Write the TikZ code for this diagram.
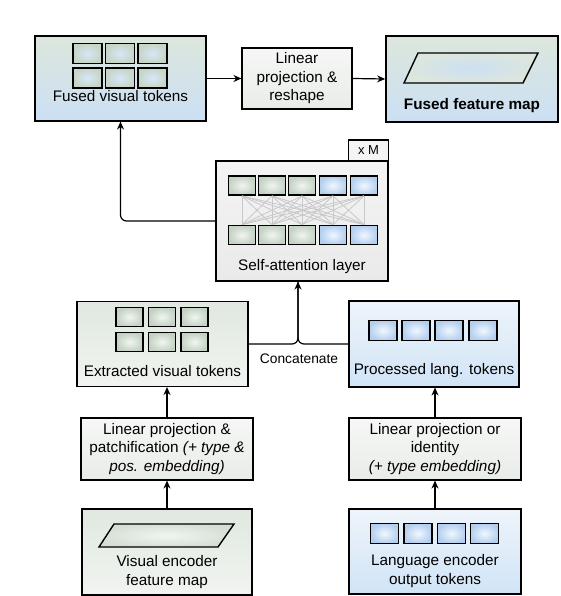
\documentclass[tikz,border=0pt]{standalone}
\usepackage{fontspec}
\setmainfont{Liberation Sans}
\usetikzlibrary{arrows.meta}

\definecolor{mixtop}{HTML}{DCE6DC}
\definecolor{mixbot}{HTML}{CCE0F4}
\definecolor{grntop}{HTML}{E0E8E0}
\definecolor{grnbot}{HTML}{F1F4F1}
\definecolor{blutop}{HTML}{EEF4FA}
\definecolor{blubot}{HTML}{D0E4F7}
\definecolor{lintop}{HTML}{F6F7F6}
\definecolor{linbot}{HTML}{E8ECE8}
\definecolor{satop}{HTML}{F4F4F4}
\definecolor{sabot}{HTML}{EAEAEA}
\definecolor{gtokin}{HTML}{F0F5F0}
\definecolor{gtokout}{HTML}{C4D2C4}
\definecolor{btokin}{HTML}{F0F7FF}
\definecolor{btokout}{HTML}{B4CFEE}
\definecolor{mtokin}{HTML}{D6E7F8}
\definecolor{mtokout}{HTML}{C6D5C6}
\definecolor{attnline}{HTML}{C8C8C8}

\tikzset{
  box/.style={draw=black, line width=1.1pt, align=center, inner sep=0pt,
    font=\fontsize{15.3}{18.5}\selectfont},
  mixbox/.style={top color=mixtop, bottom color=mixbot},
  grnbox/.style={top color=grntop, bottom color=grnbot},
  blubox/.style={top color=blutop, bottom color=blubot},
  linbox/.style={top color=lintop, bottom color=linbot},
  sabox/.style={top color=satop, bottom color=sabot},
  lbl/.style={inner sep=0pt, align=center, font=\fontsize{15.3}{18.5}\selectfont},
  tok/.style={draw=black, line width=1.8pt, minimum width=27pt, minimum height=19pt,
    inner sep=0pt, shading=radial},
  gtok/.style={tok, inner color=gtokin, outer color=gtokout},
  btok/.style={tok, inner color=btokin, outer color=btokout},
  mtok/.style={tok, inner color=mtokin, outer color=mtokout},
  conn/.style={draw=black, line width=1.2pt},
  arrow/.style={conn, -{Stealth[length=8pt, width=7pt]}},
  attn/.style={draw=attnline, line width=0.8pt},
}

\begin{document}
\begin{tikzpicture}[x=1pt, y=-1pt]
    \useasboundingbox (0,0) rectangle (560,596);

    % Fused visual tokens
    \node[box, mixbox, minimum width=171pt, minimum height=85pt] (fvt) at (120.5,78.5) {};
    \foreach \c [count=\i] in {87.5,120,152.5} {
        \node[mtok, minimum width=29pt, minimum height=20pt] (fvt-a\i) at (\c,53.5) {};
        \node[mtok, minimum width=29pt, minimum height=20pt] (fvt-b\i) at (\c,78) {};
    }
    \node[lbl, anchor=base] (fvt-t) at (120.5,101.5) {Fused visual tokens};

    % Linear projection & reshape
    \node[box, linbox, minimum width=110pt, minimum height=61pt] (lpr) at (297,78.5) {Linear\\projection \&\\reshape};

    % Fused feature map
    \node[box, mixbox, line width=1.7pt, minimum width=172pt, minimum height=86pt] (ffm) at (472,79) {};
    \draw[line width=1.4pt, shading=radial, inner color=mixbot, outer color=mixtop]
        (418,53) -- (538,53) -- (523,83) -- (404,83) -- cycle;
    \node[lbl, anchor=base, font=\fontsize{15.3}{18.5}\selectfont\bfseries] (ffm-t) at (472,110) {Fused feature map};

    \draw[arrow] (fvt.east) -- (lpr.west);
    \draw[arrow] (lpr.east) -- (ffm.west);

    % Self-attention layer (x M)
    \node[box, fill=satop, minimum width=40pt, minimum height=21pt,
        font=\fontsize{13}{15}\selectfont] (xm) at (368.5,150.5) {x M};
    \node[box, sabox, minimum width=172pt, minimum height=120pt] (sa) at (302,221) {};
    \foreach \c [count=\i] in {242,272,302,333,364} {
        \ifnum\i<4
            \node[gtok] (sa-t\i) at (\c,185.5) {};
            \node[gtok] (sa-b\i) at (\c,235) {};
        \else
            \node[btok] (sa-t\i) at (\c,185.5) {};
            \node[btok] (sa-b\i) at (\c,235) {};
        \fi
    }
    \foreach \i in {1,...,5}
        \foreach \j in {1,...,5}
            \draw[attn] (sa-t\i.south) -- (sa-b\j.north);
    \node[lbl, anchor=base] (sa-t) at (302,270) {Self-attention layer};

    \draw[arrow, rounded corners=6pt] (sa.west) -| (fvt.south);

    % Extracted visual tokens
    \node[box, grnbox, minimum width=171pt, minimum height=85pt] (evt) at (162.5,344) {};
    \foreach \c [count=\i] in {129.5,162,194.5} {
        \node[gtok] (evt-a\i) at (\c,317) {};
        \node[gtok] (evt-b\i) at (\c,342) {};
    }
    \node[lbl, anchor=base] (evt-t) at (162.5,376) {Extracted visual tokens};

    % Processed lang. tokens
    \node[box, blubox, minimum width=170pt, minimum height=86pt] (plt) at (434,344) {};
    \foreach \c [count=\i] in {383,416,449,483} {
        \node[btok, minimum width=28pt, minimum height=20pt] (plt-a\i) at (\c,330.5) {};
    }
    \node[lbl, anchor=base] (plt-t) at (434,374) {Processed lang. tokens};

    % Concatenate
    \coordinate (cat) at (298,344);
    \draw[conn, rounded corners=6pt] (evt.east) -| (cat |- sa.south);
    \draw[arrow, rounded corners=6pt] (plt.west) -| (cat |- sa.south);
    \node[lbl, anchor=base, font=\fontsize{13.8}{16}\selectfont] (cat-t) at (299,363) {Concatenate};

    % Linear projection & patchification
    \node[box, linbox, minimum width=172pt, minimum height=62pt] (lpp) at (167,449)
        {Linear projection \&\\patchification \textit{(+ type \&}\\\textit{pos. embedding)}};

    % Linear projection or identity
    \node[box, linbox, minimum width=172pt, minimum height=62pt] (lpi) at (435,449)
        {Linear projection or\\identity\\\textit{(+ type embedding)}};

    % Visual encoder feature map
    \node[box, grnbox, minimum width=170pt, minimum height=86pt] (ven) at (167,552) {};
    \draw[line width=1.4pt, shading=radial, inner color=gtokin, outer color=gtokout!70!white]
        (114,524) -- (234,524) -- (218,547) -- (99,547) -- cycle;
    \node[lbl] (ven-t) at (167,572) {Visual encoder\\feature map};

    % Language encoder output tokens
    \node[box, blubox, minimum width=172pt, minimum height=85pt] (len) at (435,551.5) {};
    \foreach \c [count=\i] in {384.5,418,451.5,484.5} {
        \node[btok, minimum width=28pt, minimum height=20pt] (len-a\i) at (\c,533.5) {};
    }
    \node[lbl] (len-t) at (435,571) {Language encoder\\output tokens};

    % vertical arrows
    \draw[arrow] (ven.north -| lpp.north) -- (lpp.south);
    \draw[arrow] (lpp.north) -- (lpp.north |- evt.south);
    \draw[arrow] (len.north -| lpi.north) -- (lpi.south);
    \draw[arrow] (lpi.north) -- (lpi.north |- plt.south);

\end{tikzpicture}
\end{document}
